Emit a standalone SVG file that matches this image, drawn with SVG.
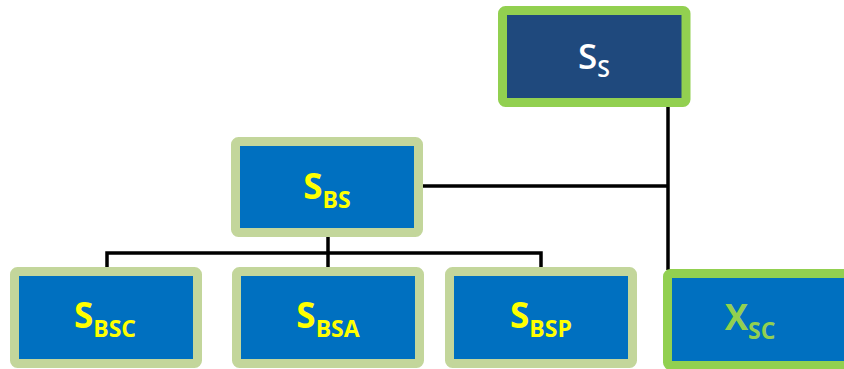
<svg xmlns="http://www.w3.org/2000/svg" width="844" height="369" viewBox="0 0 844 369">
<style>
.box{fill:#0070c0;stroke:#c3d69b;stroke-width:9}
.top{fill:#1f497d;stroke:#92d050;stroke-width:9}
.xsc{fill:#0070c0;stroke:#92d050;stroke-width:9}
.lbl{font-family:"Open Sans","Liberation Sans",sans-serif;font-weight:bold;text-anchor:middle;font-size:35px}
.sub{font-size:23px}
.yel{fill:#ffff00}
.wht{fill:#ffffff}
.grn{fill:#92d050}
.con{fill:none;stroke:#000;stroke-width:3.5}
</style>
<rect width="844" height="369" fill="#ffffff"/>
<g id="connectors">
<polyline class="con" points="668,102 668,270"/>
<polyline class="con" points="419,186 668,186"/>
<polyline class="con" points="328,233 328,253"/>
<polyline class="con" points="107,268 107,253 541,253 541,268"/>
<polyline class="con" points="328,253 328,268"/>
</g>
<g id="Ss">
<rect class="top" x="502.5" y="10.5" width="183.5" height="92" rx="3"/>
<text class="lbl wht" x="594" y="69" style="font-weight:600">S<tspan class="sub" dy="8">S</tspan></text>
</g>
<g id="SBS">
<rect class="box" x="235.5" y="141.5" width="183" height="91" rx="3"/>
<text class="lbl yel" x="327" y="199">S<tspan class="sub" dy="9">BS</tspan></text>
</g>
<g id="SBSC">
<rect class="box" x="14.5" y="271.5" width="183" height="92" rx="3"/>
<text class="lbl yel" x="105" y="328">S<tspan class="sub" dy="9">BSC</tspan></text>
</g>
<g id="SBSA">
<rect class="box" x="236.5" y="271.5" width="183" height="92" rx="3"/>
<text class="lbl yel" x="328" y="328">S<tspan class="sub" dy="9">BSA</tspan></text>
</g>
<g id="SBSP">
<rect class="box" x="449.5" y="271.5" width="183" height="92" rx="3"/>
<text class="lbl yel" x="541" y="328">S<tspan class="sub" dy="9">BSP</tspan></text>
</g>
<g id="XSC">
<rect class="xsc" x="667.5" y="273.5" width="190" height="92" rx="3"/>
<text class="lbl grn" x="750" y="330">X<tspan class="sub" dy="9">SC</tspan></text>
</g>
</svg>
